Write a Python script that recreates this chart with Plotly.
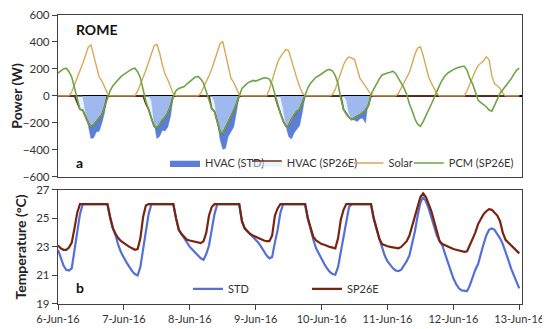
import pandas as pd
import plotly.graph_objects as go

# ---------------- data (hourly, 6-Jun-16 00:00 .. 13-Jun-16 00:00) ----------------
Z6 = [0] * 6
solar_days = [
    [0, 0, 0, 0, 0, 30, 80, 130, 180, 240, 300, 360, 378, 300, 210, 140, 110, 70, 20, 0, 0, 0, 0, 0],
    [0, 0, 0, 0, 0, 35, 85, 140, 190, 250, 310, 370, 382, 320, 230, 160, 120, 70, 15, 0, 0, 0, 0, 0],
    [0, 0, 0, 0, 20, 60, 100, 150, 200, 260, 320, 385, 405, 310, 200, 130, 100, 60, 10, 0, 0, 0, 0, 0],
    [0, 0, 0, 0, 0, 50, 120, 200, 250, 290, 320, 345, 335, 260, 190, 130, 70, 20, 0, 0, 0, 0, 0, 0],
    [0, 0, 0, 0, 10, 50, 110, 170, 230, 270, 290, 280, 270, 200, 130, 100, 70, 40, 10, 0, 0, 0, 0, 0],
    [0, 0, 0, 0, 20, 60, 100, 140, 175, 240, 310, 355, 365, 300, 210, 140, 95, 55, 15, 0, 0, 0, 0, 0],
    [0, 0, 0, 0, 0, 40, 90, 140, 185, 225, 240, 260, 290, 270, 150, 90, 75, 55, 20, 0, 0, 0, 0, 0],
]
solar_end = [0]

pcm_days = [
    [170, 185, 200, 205, 180, 140, 60, -40, -100, -105, -150, -200, -228, -215, -190, -165, -140, -80, -15, 40, 75, 100, 125, 145],
    [160, 175, 190, 200, 205, 180, 135, 40, -40, -100, -165, -225, -237, -215, -180, -160, -125, -75, -5, 40, 55, 60, 70, 90],
    [105, 125, 140, 145, 125, 95, 40, -30, -95, -115, -190, -265, -280, -240, -200, -160, -110, -60, 0, 55, 75, 95, 105, 115],
    [110, 120, 130, 135, 133, 125, 85, 10, -70, -130, -185, -225, -220, -175, -140, -115, -100, -50, 0, 60, 95, 121, 140, 150],
    [165, 180, 192, 197, 185, 150, 90, -20, -100, -135, -160, -175, -165, -150, -140, -125, -105, -75, 10, 50, 90, 125, 155, 165],
    [170, 175, 183, 165, 130, 95, 60, 10, -60, -110, -170, -210, -225, -190, -150, -110, -60, -15, 35, 80, 120, 150, 170, 185],
    [195, 205, 212, 218, 220, 190, 130, 90, 30, -30, -50, -65, -80, -105, -113, -70, -20, 20, 45, 70, 95, 125, 160, 190],
]
pcm_end = [207]

hvac_std_days = [
    [0] * 10 + [-120, -230, -315, -310, -265, -262, -200, -120] + Z6,
    [0] * 10 + [-30, -200, -315, -300, -255, -260, -230, -150] + Z6,
    [0] * 9 + [-40, -200, -320, -395, -390, -300, -265, -230, -120] + Z6,
    [0] * 10 + [-90, -220, -300, -320, -275, -250, -220, -120] + Z6,
    [0] * 9 + [-30, -130, -170, -180, -190, -170, -165, -200, -40] + Z6,
    [0] * 24,
    [0] * 24,
]
hvac_std_end = [0]

hvac_sp_days = [
    [0] * 7 + [-50, -100, -105, -150, -200, -228, -215, -190, -165, -140, -80] + Z6,
    [0] * 8 + [-60, -100, -165, -225, -237, -215, -180, -160, -125, -75] + Z6,
    [0] * 8 + [-95, -115, -190, -265, -280, -240, -200, -160, -110, -60] + Z6,
    [0] * 8 + [-70, -130, -185, -225, -220, -175, -140, -115, -100, -50] + Z6,
    [0] * 8 + [-100, -135, -160, -175, -165, -150, -140, -125, -105, -75] + Z6,
    [0] * 24,
    [0] * 24,
]
hvac_sp_end = [0]

t_std_days = [
    [22.8, 22.2, 21.7, 21.4, 21.35, 21.5, 22.8, 24.3, 25.3, 26, 26, 26, 26, 26, 26, 26, 26, 26, 26, 25.0, 24.3, 23.8, 23.1, 22.6],
    [22.2, 21.9, 21.6, 21.3, 21.1, 21.0, 21.6, 22.8, 24.0, 25.3, 26, 26, 26, 26, 26, 26, 26, 26, 26, 25.0, 24.2, 23.9, 23.6, 23.3],
    [23.0, 22.8, 22.6, 22.35, 22.2, 22.1, 22.5, 23.1, 24.3, 25.3, 26, 26, 26, 26, 26, 26, 26, 26, 26, 24.8, 24.3, 24.1, 23.9, 23.7],
    [23.5, 23.3, 23.0, 22.7, 22.4, 22.2, 22.3, 23.3, 24.2, 25.4, 26, 26, 26, 26, 26, 26, 26, 26, 26, 25.0, 24.2, 23.5, 22.9, 22.5],
    [22.1, 21.8, 21.5, 21.25, 21.1, 21.05, 21.6, 22.6, 23.6, 24.7, 25.8, 26, 26, 26, 26, 26, 26, 26, 26, 25.0, 24.2, 23.6, 23.0, 22.4],
    [22.0, 21.75, 21.5, 21.35, 21.3, 21.4, 21.7, 22.0, 22.4, 23.2, 24.1, 25.2, 26.1, 26.5, 26.2, 25.7, 25.1, 24.4, 23.8, 23.4, 23.1, 22.5, 21.9, 21.3],
    [20.8, 20.4, 20.1, 19.95, 19.9, 19.9, 20.3, 20.9, 21.4, 21.8, 22.6, 23.2, 23.8, 24.2, 24.3, 24.2, 23.9, 23.6, 23.2, 22.7, 22.1, 21.5, 21.0, 20.5],
]
t_std_end = [20.1]

t_sp_days = [
    [23.1, 22.9, 22.8, 22.8, 22.95, 23.3, 24.3, 25.4, 26, 26, 26, 26, 26, 26, 26, 26, 26, 26, 26, 25.1, 24.3, 23.9, 23.6, 23.4],
    [23.25, 23.1, 23.0, 22.9, 22.8, 22.85, 23.6, 25.1, 25.9, 26, 26, 26, 26, 26, 26, 26, 26, 26, 26, 25.0, 24.2, 23.9, 23.7, 23.5],
    [23.45, 23.4, 23.35, 23.3, 23.27, 23.4, 24.0, 25.2, 25.8, 26, 26, 26, 26, 26, 26, 26, 26, 26, 26, 24.8, 24.3, 24.1, 23.9, 23.8],
    [23.7, 23.6, 23.5, 23.45, 23.4, 23.4, 23.8, 25.2, 25.7, 26, 26, 26, 26, 26, 26, 26, 26, 26, 26, 25.0, 24.3, 23.7, 23.45, 23.3],
    [23.2, 23.15, 23.05, 23.0, 22.95, 22.9, 23.6, 24.9, 25.6, 26, 26, 26, 26, 26, 26, 26, 26, 26, 26, 25.0, 24.2, 23.6, 23.2, 23.1],
    [23.05, 23.0, 22.95, 22.9, 22.9, 23.0, 23.2, 23.4, 23.8, 24.5, 25.2, 25.9, 26.5, 26.75, 26.5, 26.0, 25.5, 24.8, 24.0, 23.4, 23.2, 23.1, 23.0, 22.9],
    [22.85, 22.8, 22.75, 22.7, 22.65, 22.7, 23.1, 23.5, 24.0, 24.6, 25.0, 25.3, 25.5, 25.65, 25.6, 25.4, 25.2, 24.8, 24.0, 23.5, 23.3, 23.1, 22.9, 22.7],
]
t_sp_end = [22.55]

tick_dates = ["2016-06-06", "2016-06-07", "2016-06-08", "2016-06-09",
              "2016-06-10", "2016-06-11", "2016-06-12", "2016-06-13"]
tick_labels = ["6-Jun-16", "7-Jun-16", "8-Jun-16", "9-Jun-16",
               "10-Jun-16", "11-Jun-16", "12-Jun-16", "13-Jun-16"]


def flat(days, end):
    out = []
    for d in days:
        out += d
    return out + end


solar = flat(solar_days, solar_end)
pcm = flat(pcm_days, pcm_end)
hvac_std = flat(hvac_std_days, hvac_std_end)
hvac_sp = flat(hvac_sp_days, hvac_sp_end)
t_std = flat(t_std_days, t_std_end)
t_sp = flat(t_sp_days, t_sp_end)
times = pd.date_range("2016-06-06 00:00", periods=len(solar), freq="h")

# ---------------- figure ----------------
FONT = "Lato, 'Open Sans', sans-serif"
fig = go.Figure()

fig.add_trace(go.Scatter(x=times, y=hvac_std, name="HVAC (STD)", mode="lines",
                         line=dict(color="#5b7fd8", width=0.5), fill="tozeroy",
                         fillcolor="#5b7fd8", xaxis="x", yaxis="y", legend="legend"))
fig.add_trace(go.Scatter(x=times, y=hvac_sp, name="HVAC (SP26E)", mode="lines",
                         line=dict(color="#6e2a18", width=1.6), fill="tozeroy",
                         fillcolor="rgba(215,232,255,0.55)", xaxis="x", yaxis="y", legend="legend2"))
fig.add_trace(go.Scatter(x=times, y=solar, name="Solar", mode="lines",
                         line=dict(color="#d9a857", width=1.4), xaxis="x", yaxis="y", legend="legend3"))
fig.add_trace(go.Scatter(x=times, y=pcm, name="PCM (SP26E)", mode="lines",
                         line=dict(color="#6ea544", width=1.6), xaxis="x", yaxis="y", legend="legend4"))

fig.add_trace(go.Scatter(x=times, y=t_std, name="STD", mode="lines",
                         line=dict(color="#5470d6", width=2.2), xaxis="x2", yaxis="y2", legend="legend5"))
fig.add_trace(go.Scatter(x=times, y=t_sp, name="SP26E", mode="lines",
                         line=dict(color="#7a2410", width=2.2), xaxis="x2", yaxis="y2", legend="legend6"))

xrange = ["2016-06-06 00:00", "2016-06-13 01:00"]
axcol = "#404040"
common_x = dict(range=xrange, showgrid=False, zeroline=False, showline=True,
                linecolor=axcol, linewidth=1.3, mirror=True, automargin=False,
                ticklabeloverflow="allow")
common_y = dict(showgrid=False, showline=True, linecolor=axcol, linewidth=1.3, mirror=True,
                ticks="outside", ticklen=5, tickcolor=axcol, automargin=False,
                ticklabeloverflow="allow",
                tickfont=dict(family=FONT, size=11.5, color="#333333"))

leg_common = dict(orientation="h", bgcolor="rgba(0,0,0,0)", font=dict(family=FONT, size=11, color="#333333"),
                  yanchor="middle", xanchor="left", itemwidth=30, tracegroupgap=0)

fig.update_layout(
    width=542, height=321,
    margin=dict(l=50, r=28, t=7, b=25, autoexpand=False),
    paper_bgcolor="white", plot_bgcolor="white",
    font=dict(family=FONT, color="#333333"),
    xaxis=dict(**common_x, domain=[0, 1], anchor="y", showticklabels=False, ticks=""),
    yaxis=dict(**common_y, domain=[0.44, 1], range=[-600, 600], tick0=0, dtick=200,
               zeroline=True, zerolinecolor="#000000", zerolinewidth=1.6,
               title=dict(text="<b>Power (W)</b>", font=dict(family=FONT, size=14, color="#222222"), standoff=6)),
    xaxis2=dict(**common_x, domain=[0, 1], anchor="y2", tickmode="array", tickvals=tick_dates,
                ticktext=tick_labels, ticks="outside", ticklen=5, tickcolor=axcol,
                tickfont=dict(family=FONT, size=11, color="#333333")),
    yaxis2=dict(**common_y, domain=[0, 0.395], range=[19, 27], tick0=19, dtick=2, zeroline=False,
                title=dict(text="<b>Temperature (°C)</b>", font=dict(family=FONT, size=14, color="#222222"), standoff=6)),
    legend=dict(**leg_common, x=0.2306, y=0.488),
    legend2=dict(**leg_common, x=0.407, y=0.488),
    legend3=dict(**leg_common, x=0.626, y=0.488),
    legend4=dict(**leg_common, x=0.756, y=0.488),
    legend5=dict(**leg_common, x=0.280, y=0.052),
    legend6=dict(**leg_common, x=0.5366, y=0.052),
    annotations=[
        dict(text="<b>ROME</b>", xref="paper", yref="paper", x=0.035, y=0.95, xanchor="left",
             yanchor="middle", showarrow=False, font=dict(family=FONT, size=14, color="#111111")),
        dict(text="<b>a</b>", xref="paper", yref="paper", x=0.035, y=0.49, xanchor="left",
             yanchor="middle", showarrow=False, font=dict(family=FONT, size=14, color="#111111")),
        dict(text="<b>b</b>", xref="paper", yref="paper", x=0.035, y=0.058, xanchor="left",
             yanchor="middle", showarrow=False, font=dict(family=FONT, size=14, color="#111111")),
    ],
    showlegend=True,
)

fig.write_html("out.html")
